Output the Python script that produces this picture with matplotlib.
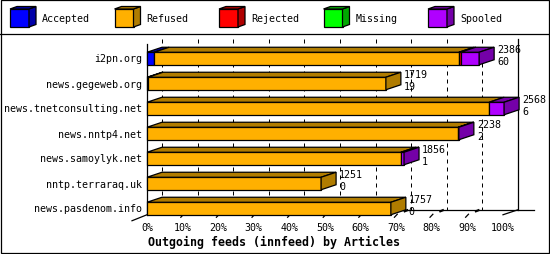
import matplotlib.pyplot as plt
from matplotlib.patches import Polygon, Rectangle

hosts = ["i2pn.org", "news.gegeweb.org", "news.tnetconsulting.net", "news.nntp4.net",
         "news.samoylyk.net", "nntp.terraraq.uk", "news.pasdenom.info"]
# share of each bar, in percent
accepted = [2.0, 0.3, 0.0, 0.0, 0.0, 0.0, 0.0]
refused = [85.6, 66.8, 96.1, 87.4, 71.3, 48.9, 68.5]
rejected = [0.5, 0.0, 0.0, 0.0, 0.0, 0.0, 0.0]
missing = [0.0, 0.0, 0.0, 0.0, 0.0, 0.0, 0.0]
spooled = [5.2, 0.0, 4.2, 0.2, 0.9, 0.0, 0.0]
totals = [2386, 1719, 2568, 2238, 1856, 1251, 1757]
spool_counts = [60, 19, 6, 2, 1, 0, 0]
ticks = [0, 10, 20, 30, 40, 50, 60, 70, 80, 90, 100]

names = ["Accepted", "Refused", "Rejected", "Missing", "Spooled"]
series = [accepted, refused, rejected, missing, spooled]
front_cols = ["#0000ff", "#ffb000", "#ff0000", "#00ff00", "#b000ff"]
dark_cols = ["#0000a8", "#b07c00", "#b00000", "#00a800", "#7400a8"]

W, H = 550, 255
px = 100 / 356.0        # percent per pixel
DX = 15 * px            # depth offset, x
DY = 5 / 25.0           # depth offset, y (bar units)
mono = "DejaVu Sans Mono"
fs = 7.2

fig = plt.figure(figsize=(W / 100, H / 100), dpi=100)

# overlay in pixels for border + legend
lay = fig.add_axes([0, 0, 1, 1])
lay.set_xlim(0, W)
lay.set_ylim(H, 0)
lay.axis("off")
lay.add_patch(Rectangle((0.5, 0.5), W - 1.5, H - 1.5, fill=False, ec="black", lw=0.9))
lay.plot([0, W], [35, 35], color="black", lw=0.9)
for k, nm in enumerate(names):
    x = 10 + k * 104.5
    lay.add_patch(Rectangle((x, 10), 19, 18, fc=front_cols[k], ec="black", lw=0.9))
    lay.add_patch(Polygon([(x + 19, 28), (x + 26, 25.5), (x + 26, 7.5), (x + 19, 10)],
                          fc=dark_cols[k], ec="black", lw=0.9))
    lay.add_patch(Polygon([(x, 10), (x + 7, 7.5), (x + 26, 7.5), (x + 19, 10)],
                          fc=dark_cols[k], ec="black", lw=0.9))
    lay.text(x + 32, 19, nm, family=mono, fontsize=fs, va="center", ha="left")

ax = fig.add_axes([147 / W, (H - 215.75) / H, 356 / W, 176.25 / H])
ax.set_xlim(0, 100)
ax.set_ylim(6.25, -0.8)
ax.axis("off")

top_y = -0.8
floor_front = len(hosts) - 1 + 0.25
floor_back = floor_front - DY

# back wall gridlines
for t in ticks[:-1]:
    ax.plot([t + DX, t + DX], [top_y, floor_back], color="black", lw=0.72,
            ls=(0, (4, 4)), zorder=1, clip_on=False)
    if t > 0:
        ax.plot([t - 0.5, t + 0.3], [floor_front + 0.1, floor_front - 0.02], color="black",
                lw=0.9, zorder=1, clip_on=False)
        ax.plot([t + 2.4, t + 3.1], [floor_back + 0.06, floor_back + 0.02],
                color="black", lw=1.6, zorder=1, clip_on=False)
ax.plot([100 + DX, 100 + DX], [top_y, floor_back], color="black", lw=0.9, zorder=1, clip_on=False)
ax.plot([DX, 100 + DX + 16 * px], [floor_back, floor_back], color="black", lw=0.9,
        zorder=1, clip_on=False)
ax.plot([100, 100 + DX], [floor_front, floor_back], color="black", lw=0.9, zorder=1, clip_on=False)
ax.plot([0, 0], [top_y + DY, floor_front], color="black", lw=0.9, zorder=1, clip_on=False)
ax.plot([-DX, 0], [floor_front + 0.24, floor_front], color="black", lw=0.9, zorder=1, clip_on=False)

for t in ticks:
    ax.text(t, 6.76, "%d%%" % t, family=mono, fontsize=fs, ha="center", va="center")
ax.text(0.3, 7.3, "Outgoing feeds (innfeed) by Articles", family=mono, fontsize=8.4,
        fontweight="bold", ha="left", va="center")

# 3D stacked bars
for i, h in enumerate(hosts):
    y0, y1 = i - 0.25, i + 0.25
    vals = [s[i] for s in series]
    last = max(j for j, v in enumerate(vals) if v > 0)
    left = 0.0
    for j, v in enumerate(vals):
        if v <= 0:
            continue
        right = left + v
        ax.add_patch(Rectangle((left, y0), v, 0.5, fc=front_cols[j], ec="black",
                               lw=0.9, zorder=3, clip_on=False))
        ax.add_patch(Polygon([(left, y0), (right, y0), (right + DX, y0 - DY), (left + DX, y0 - DY)],
                             fc=dark_cols[j], ec="black", lw=0.9, zorder=3, clip_on=False))
        if j == last:
            ax.add_patch(Polygon([(right, y0), (right + DX, y0 - DY), (right + DX, y1 - DY), (right, y1)],
                                 fc=dark_cols[j], ec="black", lw=0.9, zorder=3, clip_on=False))
        left = right
    ax.text(-5 * px, i, h, family=mono, fontsize=fs, ha="right", va="center")
    ax.text(left + DX + 3 * px, y0 - DY + 0.07, str(totals[i]), family=mono,
            fontsize=fs, ha="left", va="center", zorder=4)
    ax.text(left + DX + 3 * px, y0 - DY + 0.55, str(spool_counts[i]), family=mono,
            fontsize=fs, ha="left", va="center", zorder=4)

fig.savefig("out.png", dpi=100)
